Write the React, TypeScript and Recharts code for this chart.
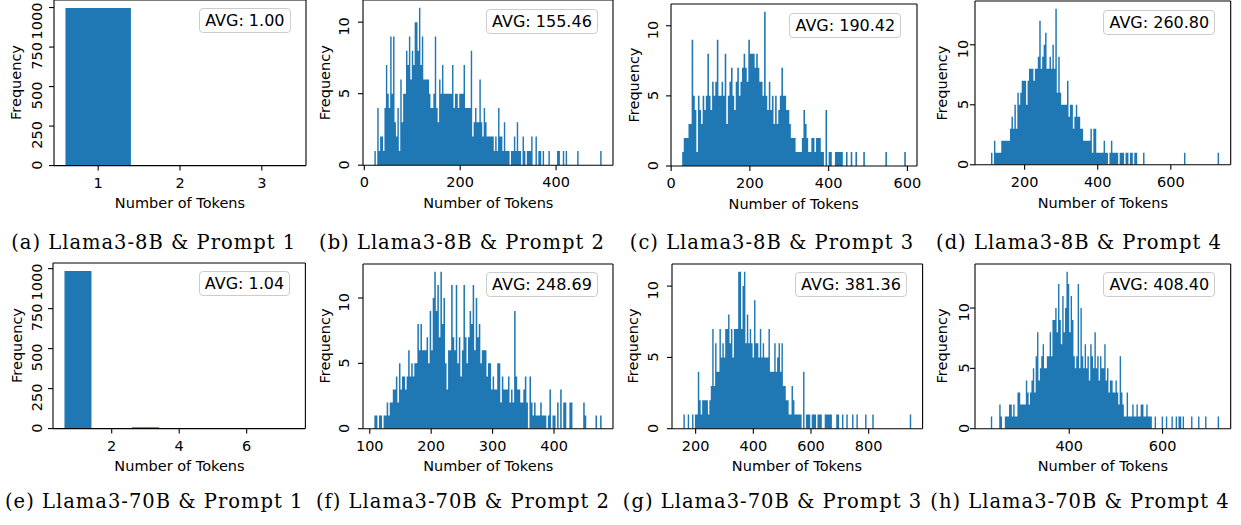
import React from 'react';
import { AreaChart, Area, XAxis, YAxis, ReferenceLine } from 'recharts';

// ---------------- data ----------------
// (a) / (e): discrete token counts
const tokensA = [1, 2, 3];
const countsA = [998, 1, 1];
const tokensE = [1, 2, 3, 4, 5, 6, 7];
const countsE = [986, 0, 8, 3, 0, 2, 1];
const discreteBarWidth = 0.8;

// (b) Llama3-8B & Prompt 2
const binStartB = 21;
const binWidthB = 3;
const countsB = [
  1, 0, 4, 1, 2, 2, 1, 4, 7, 5,
  4, 9, 5, 9, 3, 2, 4, 1, 6, 3,
  5, 5, 8, 7, 9, 6, 8, 7, 10, 10,
  8, 11, 7, 9, 6, 6, 6, 6, 5, 4,
  4, 5, 9, 4, 3, 6, 5, 7, 5, 5,
  5, 5, 5, 5, 7, 4, 5, 5, 4, 5,
  5, 5, 7, 4, 4, 4, 4, 8, 2, 3,
  4, 3, 3, 6, 3, 2, 4, 3, 2, 2,
  2, 2, 2, 1, 2, 1, 4, 2, 2, 1,
  3, 1, 1, 1, 0, 1, 1, 2, 1, 3,
  1, 1, 0, 2, 1, 0, 1, 1, 1, 2,
  0, 0, 2, 0, 1, 1, 0, 1, 0, 0,
  0, 1, 0, 0, 0, 0, 0, 1, 1, 0,
  0, 1, 0, 1, 0, 0, 0, 0, 0, 0,
  0, 1, 0, 0, 0, 0, 0, 0, 0, 0,
  0, 0, 0, 0, 0, 0, 0, 1,
];

// (c) Llama3-8B & Prompt 3
const binStartC = 28;
const binWidthC = 4;
const countsC = [
  1, 2, 2, 2, 3, 3, 9, 5, 4, 1,
  5, 4, 3, 5, 4, 5, 8, 5, 4, 6,
  5, 6, 9, 5, 5, 6, 5, 8, 3, 5,
  6, 7, 5, 4, 6, 7, 5, 6, 7, 8,
  7, 6, 9, 8, 8, 8, 7, 8, 7, 6,
  6, 5, 11, 5, 4, 6, 4, 5, 3, 5,
  3, 4, 5, 7, 5, 5, 4, 4, 3, 2,
  2, 2, 1, 1, 1, 1, 2, 4, 3, 2,
  1, 1, 2, 2, 1, 2, 2, 2, 1, 1,
  0, 4, 0, 1, 1, 0, 0, 1, 1, 1,
  1, 1, 0, 0, 1, 0, 0, 1, 0, 0,
  1, 0, 0, 0, 0, 1, 0, 0, 0, 0,
  0, 0, 0, 0, 0, 0, 0, 0, 0, 1,
  0, 0, 0, 0, 0, 0, 0, 0, 0, 0,
  0, 1,
];

// (d) Llama3-8B & Prompt 4
const binStartD = 96;
const binWidthD = 4;
const countsD = [
  0, 0, 0, 1, 0, 2, 1, 1, 1, 1,
  2, 2, 2, 2, 2, 2, 3, 4, 3, 5,
  3, 6, 5, 6, 7, 7, 7, 5, 7, 8,
  8, 8, 7, 8, 8, 9, 12, 8, 9, 10,
  11, 8, 8, 9, 8, 10, 8, 13, 6, 9,
  6, 5, 5, 5, 5, 7, 4, 5, 5, 3,
  4, 5, 4, 4, 3, 3, 2, 2, 2, 2,
  2, 3, 1, 3, 3, 1, 1, 1, 1, 1,
  2, 1, 1, 0, 1, 2, 1, 1, 1, 1,
  0, 1, 1, 1, 0, 1, 1, 0, 1, 1,
  0, 1, 1, 0, 0, 0, 0, 1, 0, 0,
  0, 0, 0, 0, 0, 0, 0, 0, 0, 0,
  0, 0, 0, 0, 0, 0, 0, 0, 0, 0,
  0, 0, 0, 0, 0, 1, 0, 0, 0, 0,
  0, 0, 0, 0, 0, 0, 0, 0, 0, 0,
  0, 0, 0, 0, 0, 0, 0, 0, 1,
];

// (f) Llama3-70B & Prompt 2
const binStartF = 107.5;
const binWidthF = 2.5;
const countsF = [
  1, 1, 0, 1, 1, 0, 1, 1, 2, 1,
  2, 2, 3, 3, 4, 2, 5, 3, 4, 4,
  3, 4, 6, 4, 5, 4, 5, 5, 8, 6,
  8, 6, 6, 6, 7, 5, 9, 6, 10, 12,
  9, 11, 7, 12, 8, 10, 5, 3, 6, 6,
  11, 7, 6, 11, 5, 7, 4, 6, 11, 7,
  5, 7, 9, 8, 11, 6, 10, 7, 8, 5,
  6, 6, 6, 4, 5, 5, 3, 4, 3, 3,
  5, 5, 2, 4, 3, 3, 3, 4, 2, 3,
  2, 9, 4, 3, 3, 2, 2, 3, 4, 2,
  0, 4, 2, 1, 2, 1, 1, 1, 2, 1,
  1, 1, 0, 1, 3, 0, 1, 1, 0, 2,
  0, 3, 0, 2, 2, 0, 0, 2, 2, 0,
  0, 0, 0, 0, 0, 0, 2, 1, 0, 0,
  0, 0, 0, 0, 1, 0, 0, 1,
];

// (g) Llama3-70B & Prompt 3
const binStartG = 157.5;
const binWidthG = 5;
const countsG = [
  1, 0, 0, 1, 0, 0, 1, 0, 1, 1,
  4, 2, 1, 2, 2, 2, 2, 1, 2, 3,
  7, 3, 6, 4, 4, 7, 5, 6, 5, 7,
  7, 8, 6, 7, 5, 7, 7, 7, 11, 11,
  7, 10, 11, 6, 8, 6, 7, 6, 5, 9,
  6, 6, 5, 7, 5, 6, 5, 5, 5, 7,
  4, 4, 4, 6, 4, 5, 6, 4, 6, 3,
  3, 2, 2, 1, 1, 3, 2, 1, 1, 1,
  1, 1, 0, 4, 0, 1, 1, 1, 0, 1,
  1, 1, 0, 1, 1, 1, 0, 0, 1, 1,
  1, 1, 1, 0, 0, 0, 1, 1, 0, 0,
  1, 0, 0, 1, 0, 0, 0, 1, 0, 0,
  1, 0, 0, 0, 0, 0, 1, 0, 0, 0,
  0, 1, 0, 0, 0, 0, 0, 0, 0, 0,
  0, 0, 0, 0, 0, 0, 0, 0, 0, 0,
  0, 0, 0, 0, 0, 0, 0, 1,
];

// (h) Llama3-70B & Prompt 4
const binStartH = 223;
const binWidthH = 3;
const countsH = [
  0, 0, 0, 1, 0, 0, 0, 0, 0, 2,
  1, 0, 0, 1, 1, 1, 2, 2, 1, 2,
  1, 1, 3, 3, 2, 2, 2, 2, 4, 3,
  2, 3, 4, 5, 3, 6, 8, 4, 5, 6,
  7, 5, 5, 6, 6, 8, 6, 9, 9, 10,
  8, 12, 9, 7, 11, 8, 10, 13, 12, 8,
  11, 9, 6, 5, 6, 12, 5, 10, 6, 5,
  7, 5, 6, 4, 7, 6, 5, 8, 5, 6,
  4, 6, 5, 5, 7, 4, 5, 3, 4, 4,
  3, 3, 4, 3, 2, 6, 3, 2, 1, 1,
  3, 1, 1, 1, 2, 1, 1, 2, 1, 1,
  2, 2, 1, 1, 2, 1, 1, 1, 0, 0,
  1, 0, 0, 0, 0, 1, 0, 0, 1, 0,
  0, 0, 1, 0, 0, 1, 0, 1, 1, 0,
  1, 0, 0, 0, 0, 0, 1, 0, 0, 0,
  0, 1, 0, 0, 0, 0, 1, 0, 0, 0,
  0, 0, 0, 0, 0, 1,
];

// tick labels
const xTicksA = [1, 2, 3];
const xTicksB = [0, 200, 400];
const xTicksC = [0, 200, 400, 600];
const xTicksD = [200, 400, 600];
const xTicksE = [2, 4, 6];
const xTicksF = [100, 200, 300, 400];
const xTicksG = [200, 400, 600, 800];
const xTicksH = [400, 600];
const yTicksLarge = [0, 250, 500, 750, 1000];
const yTicksSmall = [0, 5, 10];

const avgLabels = [
  'AVG: 1.00', 'AVG: 155.46', 'AVG: 190.42', 'AVG: 260.80',
  'AVG: 1.04', 'AVG: 248.69', 'AVG: 381.36', 'AVG: 408.40',
];
const captions = [
  '(a) Llama3-8B & Prompt 1', '(b) Llama3-8B & Prompt 2',
  '(c) Llama3-8B & Prompt 3', '(d) Llama3-8B & Prompt 4',
  '(e) Llama3-70B & Prompt 1', '(f) Llama3-70B & Prompt 2',
  '(g) Llama3-70B & Prompt 3', '(h) Llama3-70B & Prompt 4',
];
const xTitle = 'Number of Tokens';
const yTitle = 'Frequency';

// ---------------- table builders ----------------
type Row = { x: number; y: number };

function stepFromBins(start: number, width: number, counts: number[]): Row[] {
  const rows: Row[] = counts.map((c, i) => ({ x: start + i * width, y: c }));
  rows.push({ x: start + counts.length * width, y: 0 });
  return rows;
}

function stepFromBars(tokens: number[], counts: number[], w: number): Row[] {
  const rows: Row[] = [];
  tokens.forEach((t, i) => {
    rows.push({ x: t - w / 2, y: counts[i] });
    rows.push({ x: t + w / 2, y: 0 });
  });
  return rows;
}

// matplotlib-like auto limits (5% margins)
function xLimits(rows: Row[]): [number, number] {
  const lo = rows[0].x;
  const hi = rows[rows.length - 1].x;
  const m = (hi - lo) * 0.05;
  return [lo - m, hi + m];
}
function yLimits(rows: Row[]): [number, number] {
  return [0, Math.max(...rows.map((r) => r.y)) * 1.05];
}

// ---------------- layout ----------------
const FONT = '"DejaVu Sans", sans-serif';
const SERIF = '"DejaVu Serif", serif';
const BLUE = '#1f77b4';
const TICK = 5;
const YW = 48;
const MT = 24;
const MR = 4;
const XH = 30;

type PanelCfg = {
  rows: Row[];
  xTicks: number[];
  yTicks: number[];
  frame: { l: number; r: number; t: number; b: number };
  yTickOff: number;
  yLabelOff: number;
  avg: string;
  caption: string;
  capX: number;
  capY: number;
};

const panels: PanelCfg[] = [
  { rows: stepFromBars(tokensA, countsA, discreteBarWidth), xTicks: xTicksA, yTicks: yTicksLarge,
    frame: { l: 54, r: 306, t: -0.3, b: 165.3 }, yTickOff: 17, yLabelOff: 38,
    avg: avgLabels[0], caption: captions[0], capX: 153.7, capY: 248.5 },
  { rows: stepFromBins(binStartB, binWidthB, countsB), xTicks: xTicksB, yTicks: yTicksSmall,
    frame: { l: 363.3, r: 613.3, t: 0.1, b: 165.3 }, yTickOff: 18.6, yLabelOff: 38.3,
    avg: avgLabels[1], caption: captions[1], capX: 462, capY: 248.5 },
  { rows: stepFromBins(binStartC, binWidthC, countsC), xTicks: xTicksC, yTicks: yTicksSmall,
    frame: { l: 670.7, r: 916.7, t: 4, b: 166 }, yTickOff: 18.2, yLabelOff: 37,
    avg: avgLabels[2], caption: captions[2], capX: 772, capY: 248.5 },
  { rows: stepFromBins(binStartD, binWidthD, countsD), xTicks: xTicksD, yTicks: yTicksSmall,
    frame: { l: 975, r: 1230.7, t: 1.2, b: 165 }, yTickOff: 11.7, yLabelOff: 33.3,
    avg: avgLabels[3], caption: captions[3], capX: 1079, capY: 248.5 },
  { rows: stepFromBars(tokensE, countsE, discreteBarWidth), xTicks: xTicksE, yTicks: yTicksLarge,
    frame: { l: 53.3, r: 305.7, t: 262.7, b: 428.3 }, yTickOff: 15.8, yLabelOff: 36,
    avg: avgLabels[4], caption: captions[4], capX: 154.2, capY: 508 },
  { rows: stepFromBins(binStartF, binWidthF, countsF), xTicks: xTicksF, yTicks: yTicksSmall,
    frame: { l: 363.3, r: 613.3, t: 263.6, b: 428.3 }, yTickOff: 18.6, yLabelOff: 38.3,
    avg: avgLabels[5], caption: captions[5], capX: 463, capY: 508 },
  { rows: stepFromBins(binStartG, binWidthG, countsG), xTicks: xTicksG, yTicks: yTicksSmall,
    frame: { l: 671.7, r: 922.3, t: 263.6, b: 428.3 }, yTickOff: 18.7, yLabelOff: 38.4,
    avg: avgLabels[6], caption: captions[6], capX: 772.5, capY: 508 },
  { rows: stepFromBins(binStartH, binWidthH, countsH), xTicks: xTicksH, yTicks: yTicksSmall,
    frame: { l: 975, r: 1230.7, t: 263.6, b: 428.3 }, yTickOff: 11.3, yLabelOff: 33.3,
    avg: avgLabels[7], caption: captions[7], capX: 1080, capY: 508 },
];

function Panel({ p }: { p: PanelCfg }) {
  const w = p.frame.r - p.frame.l;
  const h = p.frame.b - p.frame.t;
  const plotBottom = MT + h;
  const xDomain = xLimits(p.rows);
  const yDomain = yLimits(p.rows);
  const axisStyle = { stroke: '#000', strokeWidth: 1.1 };

  const renderXTick = (t: any) => (
    <text
      x={t.x}
      y={plotBottom + 17}
      textAnchor="middle"
      dominantBaseline="central"
      fontFamily={FONT}
      fontSize={14.5}
      fill="#000"
    >
      {t.payload.value}
    </text>
  );
  // matplotlib-style rotated y tick labels: text end sits just above the tick
  const renderYTick = (t: any) => {
    const cx = YW - p.yTickOff;
    const ay = t.y - 5;
    return (
      <text
        x={cx}
        y={ay}
        transform={`rotate(-90 ${cx} ${ay})`}
        textAnchor="end"
        dominantBaseline="central"
        fontFamily={FONT}
        fontSize={14.5}
        fill="#000"
      >
        {t.payload.value}
      </text>
    );
  };

  return (
    <div style={{ position: 'absolute', left: p.frame.l - YW, top: p.frame.t - MT }}>
      <AreaChart
        width={YW + w + MR}
        height={MT + h + XH}
        data={p.rows}
        margin={{ top: MT, right: MR, bottom: 0, left: 0 }}
      >
        <Area
          type="stepAfter"
          dataKey="y"
          stroke="none"
          fill={BLUE}
          fillOpacity={1}
          isAnimationActive={false}
          dot={false}
          activeDot={false}
        />
        <XAxis
          dataKey="x"
          type="number"
          domain={xDomain}
          allowDataOverflow
          ticks={p.xTicks}
          interval={0}
          height={XH}
          tickSize={TICK}
          tickMargin={0}
          axisLine={axisStyle}
          tickLine={axisStyle}
          tick={renderXTick}
        />
        <YAxis
          type="number"
          domain={yDomain}
          allowDataOverflow
          ticks={p.yTicks}
          interval={0}
          width={YW}
          tickSize={TICK}
          tickMargin={0}
          axisLine={axisStyle}
          tickLine={axisStyle}
          tick={renderYTick}
        />
        {/* top and right spines */}
        <ReferenceLine y={yDomain[1]} stroke="#000" strokeWidth={1.1} />
        <ReferenceLine x={xDomain[1]} stroke="#000" strokeWidth={1.1} />
      </AreaChart>
    </div>
  );
}

function AvgBox({ p }: { p: PanelCfg }) {
  return (
    <div
      style={{
        position: 'absolute',
        right: 1241 - (p.frame.r - 15.5),
        top: p.frame.t + 8.5,
        height: 25,
        boxSizing: 'border-box',
        padding: '0 5px',
        border: '1px solid #cccccc',
        borderRadius: 4,
        background: 'rgba(255,255,255,0.85)',
        fontFamily: FONT,
        fontSize: 16,
        lineHeight: '23px',
        color: '#000',
        whiteSpace: 'nowrap',
      }}
    >
      {p.avg}
    </div>
  );
}

export default function App() {
  return (
    <div style={{ position: 'relative', width: 1241, height: 525, background: '#fff', overflow: 'hidden' }}>
      <style>{`body{margin:0;background:#fff;}`}</style>
      {panels.map((p, i) => (
        <Panel key={`panel-${i}`} p={p} />
      ))}
      {panels.map((p, i) => (
        <AvgBox key={`avg-${i}`} p={p} />
      ))}
      <svg
        width={1241}
        height={525}
        style={{ position: 'absolute', left: 0, top: 0, pointerEvents: 'none' }}
      >
        {panels.map((p, i) => {
          const cxX = (p.frame.l + p.frame.r) / 2;
          const cyX = p.frame.b + 37.5;
          const cxY = p.frame.l - p.yLabelOff;
          const cyY = (p.frame.t + p.frame.b) / 2;
          return (
            <g key={`titles-${i}`}>
              <text
                x={cxX}
                y={cyX}
                textAnchor="middle"
                dominantBaseline="central"
                fontFamily={FONT}
                fontSize={14.5}
                fill="#000"
              >
                {xTitle}
              </text>
              <text
                x={cxY}
                y={cyY}
                transform={`rotate(-90 ${cxY} ${cyY})`}
                textAnchor="middle"
                dominantBaseline="central"
                fontFamily={FONT}
                fontSize={14.5}
                fill="#000"
              >
                {yTitle}
              </text>
              <text
                x={p.capX}
                y={p.capY}
                textAnchor="middle"
                fontFamily={SERIF}
                fontSize={19.5}
                letterSpacing={1}
                fill="#000"
              >
                {p.caption}
              </text>
            </g>
          );
        })}
      </svg>
    </div>
  );
}
